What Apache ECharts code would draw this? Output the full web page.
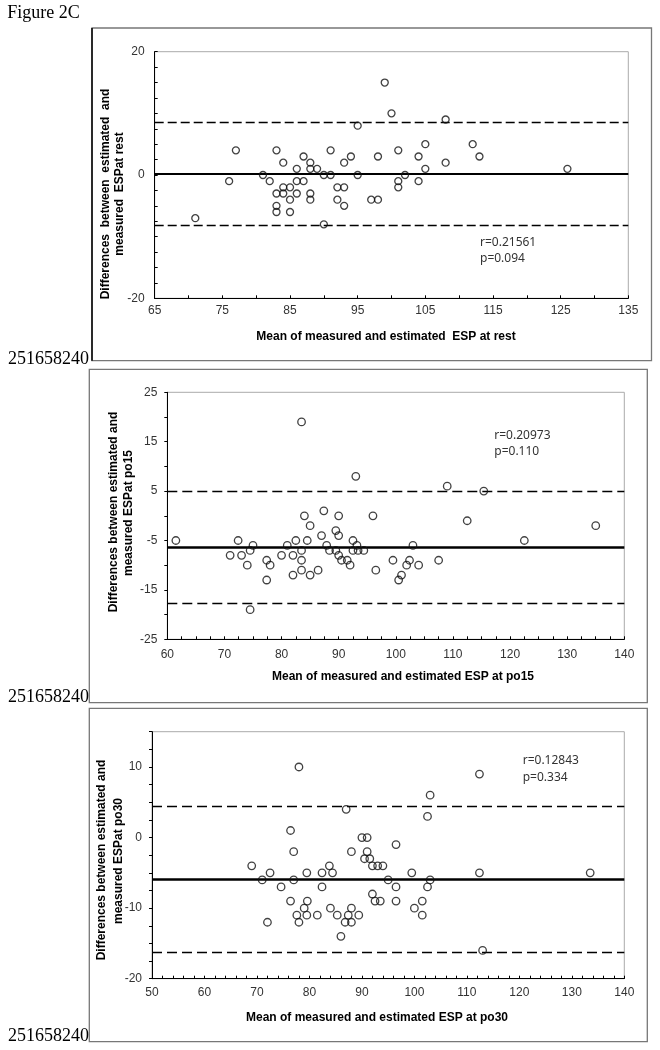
<!DOCTYPE html>
<html>
<head>
<meta charset="utf-8">
<script src="https://cdn.jsdelivr.net/npm/echarts@6/dist/echarts.min.js"></script>
<style>
html,body{margin:0;padding:0;background:#fff;}
#c{width:660px;height:1050px;}
</style>
</head>
<body>
<div id="c"></div>
<script>
// ---------- DATA ----------
// Panel 1: at rest
const restMean = [77,83,91,87,84,88,86,88,89,76,81,82,90,91,86,87,84,85,83,84,86,88,85,88,83,83,85,71,90,99,100,108,95,105,112,101,94,98,104,113,93,108,105,126,95,102,101,104,101,92,93,92,97,98,93];
const restDiff = [4,4,4,3,2,2,1,1,1,-1,0,-1,0,0,-1,-1,-2,-2,-3,-3,-3,-3,-4,-4,-5,-6,-6,-7,-8,15,10,9,8,5,5,4,3,3,3,3,2,2,1,1,0,0,-1,-1,-2,-2,-2,-4,-4,-4,-5];
const restLines = [0.2, 8.55, -8.15]; // mean, upper LoA, lower LoA
const restStats = ['r=0.21561', 'p=0.094'];

// Panel 2: po15
const po15Mean = [61.5,71,72.4,73,74,74.5,75,74.5,77.4,78,77.4,80,81,82,82.5,82,83.5,83.5,83.5,83.5,84,84.5,85,85,86.4,87,87.4,87.9,88.4,89.5,90,89.5,90,90.5,91.5,92,90,92.5,93.2,92.5,93.4,94.4,93,96,96.5,99.5,100.5,101,101.9,102.4,103,104,107.5,109,112.5,115.4,122.5,135];
const po15Diff = [-5,-8,-5,-8,-10,-7,-6,-19,-9,-10,-13,-8,-6,-8,-5,-12,-7,-9,-11,19,0,-5,-2,-12,-11,-4,1,-6,-7,-3,-4,-7,-8,-9,-9,-10,0,-5,-6,-7,-7,-7,8,0,-11,-9,-13,-12,-10,-9,-6,-10,-9,6,-1,5,-5,-2];
const po15Lines = [-6.3, 5.05, -17.65];
const po15Stats = ['r=0.20973', 'p=0.110'];

// Panel 3: po30
const po30Mean = [69,71,72,72.5,74.6,76.4,77,77,76.4,77.6,78,78,79,79.5,79.6,79.5,81.5,82.4,82.4,83.8,84.4,84,85.3,86,86.8,87,87.4,88,88,88,89.4,90,91,91,90.5,91.5,92,93,94,92,92.5,93.5,95,96.5,96.5,96.5,99.5,100,101.5,101.5,102.5,103,103,102.5,112.4,112.4,113,133.5];
const po30Diff = [-4,-6,-12,-5,-7,1,-2,-6,-9,-11,-12,10,-10,-5,-9,-11,-11,-5,-7,-4,-5,-10,-11,-14,-12,4,-11,-2,-10,-12,-11,0,0,-2,-3,-3,-4,-4,-4,-8,-9,-9,-6,-1,-7,-9,-5,-10,-9,-11,3,6,-6,-7,9,-5,-16,-5];
const po30Lines = [-5.9, 4.5, -16.3];
const po30Stats = ['r=0.12843', 'p=0.334'];

// Axis scales [min, max, interval]
const restXScale = [65, 135, 10], restYScale = [-20, 20, 20];
const po15XScale = [60, 140, 10], po15YScale = [-25, 25, 10];
const po30XScale = [50, 140, 10], po30YScale = [-20, 15, 10];

// Titles
const xTitles = ['Mean of measured and estimated  ESP at rest', 'Mean of measured and estimated ESP at po15', 'Mean of measured and estimated ESP at po30'];
const yTitles1 = ['Differences  between  estimated  and', 'Differences between estimated and', 'Differences between estimated and'];
const yTitles2 = ['measured  ESPat rest', 'measured ESPat po15', 'measured ESPat po30'];
const figLabel = 'Figure 2C';
const anchorLabel = '251658240';

// ---------- CHART ----------
const chart = echarts.init(document.getElementById('c'), null, {renderer: 'canvas', width: 660, height: 1050});

const grids = [
  {left: 154.7, top: 51.7, width: 473.6, height: 246.6},
  {left: 167.3, top: 392.3, width: 457, height: 247},
  {left: 152, top: 731.7, width: 472.3, height: 247}
];
const xScales = [restXScale, po15XScale, po30XScale];
const yScales = [restYScale, po15YScale, po30YScale];
const xMinor = [2, 4, 5];
const yMinor = [8, 2, 4];
const yInside = [true, false, false];
const xMargin = [6.5, 9, 8];

const labelFont = {fontFamily: 'Liberation Sans, Arial, sans-serif', fontSize: 12, color: '#333'};

const xAxes = xScales.map((s, i) => ({
  type: 'value', gridIndex: i, min: s[0], max: s[1], interval: s[2],
  splitLine: {show: false},
  axisLine: {show: true, onZero: false, lineStyle: {color: '#000', width: 1}},
  axisTick: {show: true, inside: true, length: 3, lineStyle: {color: '#000'}},
  minorTick: {show: true, splitNumber: xMinor[i], length: 3, lineStyle: {color: '#000'}},
  axisLabel: Object.assign({margin: xMargin[i]}, labelFont)
}));
const yAxes = yScales.map((s, i) => ({
  type: 'value', gridIndex: i, min: s[0], max: s[1], interval: s[2],
  splitLine: {show: false},
  axisLine: {show: true, onZero: false, lineStyle: {color: '#000', width: 1}},
  axisTick: {show: true, inside: yInside[i], length: 3, lineStyle: {color: '#000'}},
  minorTick: {show: true, splitNumber: yMinor[i], length: 3, lineStyle: {color: '#000'}},
  axisLabel: Object.assign({margin: 10, showMaxLabel: i !== 2}, labelFont)
}));

const meansArr = [restMean, po15Mean, po30Mean];
const diffsArr = [restDiff, po15Diff, po30Diff];
const linesArr = [restLines, po15Lines, po30Lines];
const statsArr = [restStats, po15Stats, po30Stats];
const symSizes = [7, 7.5, 7.5];
const meanWidth = [2, 2.5, 2.5];
const dashPat = [[9, 4], [10, 5], [10, 5]];

const series = meansArr.map((m, i) => ({
  type: 'scatter', xAxisIndex: i, yAxisIndex: i,
  symbol: 'circle', symbolSize: symSizes[i],
  itemStyle: {color: 'rgba(0,0,0,0)', borderColor: '#111', borderWidth: 1.3},
  data: m.map((x, k) => [x, diffsArr[i][k]]),
  z: 5,
  markLine: {
    symbol: 'none', silent: true, animation: false,
    label: {show: false},
    data: [
      {yAxis: linesArr[i][0], lineStyle: {color: '#000', width: meanWidth[i], type: 'solid'}},
      {yAxis: linesArr[i][1], lineStyle: {color: '#000', width: 1.3, type: dashPat[i]}},
      {yAxis: linesArr[i][2], lineStyle: {color: '#000', width: 1.3, type: dashPat[i]}}
    ]
  }
}));

// Layout positions for annotation text
const boxes = [
  {x: 92, y: 28, w: 559.5, h: 332.7},
  {x: 89.3, y: 369.3, w: 558, h: 333.4},
  {x: 89.3, y: 708.3, w: 558, h: 333.4}
];
const xTitlePos = [[386, 336.7], [403, 677], [377, 1017.7]];
const yTitle1Pos = [[106, 194], [113.8, 512], [101.7, 860]];
const yTitle2Pos = [[119.5, 194], [128.3, 513], [118.3, 861]];
const statsPos = [[480, 242.7, 259], [494.3, 436, 452], [522.7, 761, 777.3]];
const anchorY = [358.8, 697.5, 1035.8];

const titleFont = 'bold 12px "Liberation Sans", Arial, sans-serif';
const graphic = [];
graphic.push({type: 'text', left: null, x: 7.3, y: 13, style: {text: figLabel, font: '18px "Liberation Serif", "Times New Roman", serif', fill: '#000', verticalAlign: 'middle', align: 'left'}});
boxes.forEach((b, i) => {
  graphic.push({type: 'rect', shape: {x: b.x, y: b.y, width: b.w, height: b.h}, style: {fill: 'none', stroke: '#777', lineWidth: 1.3}, z: 1});
  if (i === 0) {
    graphic.push({type: 'line', shape: {x1: b.x, y1: b.y, x2: b.x, y2: b.y + b.h}, style: {stroke: '#000', lineWidth: 1.5}, z: 2});
  }
  graphic.push({type: 'text', x: 8, y: anchorY[i], style: {text: anchorLabel, font: '18px "Liberation Serif", "Times New Roman", serif', fill: '#000', verticalAlign: 'middle', align: 'left'}, z: 3});
  graphic.push({type: 'text', x: xTitlePos[i][0], y: xTitlePos[i][1], style: {text: xTitles[i], font: titleFont, fill: '#000', align: 'center', verticalAlign: 'middle'}});
  graphic.push({type: 'text', x: yTitle1Pos[i][0], y: yTitle1Pos[i][1], rotation: Math.PI / 2, style: {text: yTitles1[i], font: titleFont, fill: '#000', align: 'center', verticalAlign: 'middle'}});
  graphic.push({type: 'text', x: yTitle2Pos[i][0], y: yTitle2Pos[i][1], rotation: Math.PI / 2, style: {text: yTitles2[i], font: titleFont, fill: '#000', align: 'center', verticalAlign: 'middle'}});
  graphic.push({type: 'text', x: statsPos[i][0], y: statsPos[i][1], style: {text: statsArr[i][0], font: '12px "Noto Sans", "Open Sans", sans-serif', fill: '#333', align: 'left', verticalAlign: 'middle'}});
  graphic.push({type: 'text', x: statsPos[i][0], y: statsPos[i][2], style: {text: statsArr[i][1], font: '12px "Noto Sans", "Open Sans", sans-serif', fill: '#333', align: 'left', verticalAlign: 'middle'}});
});

chart.setOption({
  animation: false,
  backgroundColor: '#fff',
  grid: grids.map(g => Object.assign({show: true, borderColor: '#aaa', borderWidth: 1, backgroundColor: 'rgba(0,0,0,0)', containLabel: false}, g)),
  xAxis: xAxes,
  yAxis: yAxes,
  series: series,
  graphic: graphic
});
</script>
</body>
</html>
